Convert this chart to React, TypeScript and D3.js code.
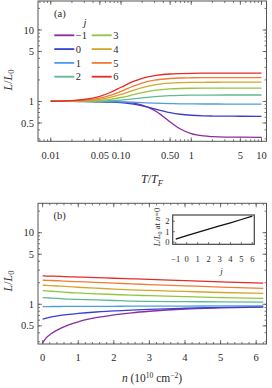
import React from 'react';
import * as d3 from 'd3';

const W = 272, H = 388;

// ---------- data ----------
const jLabels = ["−1", "0", "1", "2", "3", "4", "5", "6"];
const colors = ["#8a2c9e", "#3b3fcf", "#4c9ee0", "#5fb98f", "#93c540", "#d6a52c", "#f07c35", "#e52a2a"];

// panel (a): L/L0 versus T/TF
const tGrid = [0.01, 0.02, 0.03, 0.05, 0.07, 0.1, 0.15, 0.2, 0.3, 0.5, 0.7, 1, 1.5, 2, 3, 5, 10];
const aJm1 = [1.0, 1.0, 0.999, 0.997, 0.993, 0.981, 0.946, 0.891, 0.749, 0.516, 0.411, 0.354, 0.329, 0.322, 0.317, 0.316, 0.315];
const aJ0 = [1.0, 0.999, 0.997, 0.99, 0.981, 0.961, 0.917, 0.869, 0.787, 0.698, 0.662, 0.641, 0.629, 0.625, 0.622, 0.621, 0.62];
const aJ1 = [1.0, 1.0, 0.999, 0.997, 0.994, 0.987, 0.975, 0.963, 0.946, 0.931, 0.926, 0.923, 0.921, 0.921, 0.92, 0.92, 0.92];
const aJ2 = [1.0, 1.002, 1.004, 1.012, 1.024, 1.046, 1.087, 1.122, 1.168, 1.205, 1.217, 1.224, 1.227, 1.229, 1.23, 1.23, 1.23];
const aJ3 = [1.001, 1.005, 1.013, 1.037, 1.071, 1.135, 1.241, 1.325, 1.424, 1.496, 1.518, 1.529, 1.535, 1.537, 1.539, 1.54, 1.54];
const aJ4 = [1.002, 1.01, 1.025, 1.071, 1.137, 1.251, 1.431, 1.562, 1.707, 1.803, 1.832, 1.846, 1.853, 1.856, 1.859, 1.86, 1.86];
const aJ5 = [1.004, 1.017, 1.04, 1.115, 1.215, 1.386, 1.637, 1.808, 1.983, 2.094, 2.128, 2.143, 2.152, 2.156, 2.158, 2.16, 2.16];
const aJ6 = [1.006, 1.027, 1.065, 1.181, 1.334, 1.578, 1.906, 2.108, 2.302, 2.421, 2.454, 2.474, 2.483, 2.486, 2.49, 2.49, 2.49];
const seriesA = [aJm1, aJ0, aJ1, aJ2, aJ3, aJ4, aJ5, aJ6];

// panel (b): L/L0 versus n
const nGrid = [0, 0.1, 0.25, 0.5, 0.75, 1, 1.5, 2, 2.5, 3, 4, 5, 6.2];
const bJm1 = [0.29, 0.34, 0.39, 0.46, 0.52, 0.57, 0.65, 0.71, 0.76, 0.8, 0.86, 0.89, 0.915];
const bJ0 = [0.62, 0.64, 0.665, 0.7, 0.725, 0.745, 0.78, 0.81, 0.83, 0.85, 0.88, 0.905, 0.925];
const bJ1 = [0.93, 0.93, 0.931, 0.932, 0.933, 0.934, 0.936, 0.938, 0.94, 0.942, 0.945, 0.948, 0.95];
const bJ2 = [1.24, 1.23, 1.22, 1.2, 1.18, 1.17, 1.15, 1.13, 1.11, 1.1, 1.09, 1.08, 1.07];
const bJ3 = [1.55, 1.54, 1.52, 1.49, 1.46, 1.44, 1.4, 1.37, 1.34, 1.32, 1.28, 1.24, 1.21];
const bJ4 = [1.85, 1.84, 1.82, 1.79, 1.76, 1.73, 1.68, 1.63, 1.59, 1.56, 1.51, 1.46, 1.42];
const bJ5 = [2.17, 2.16, 2.15, 2.12, 2.09, 2.07, 2.02, 1.97, 1.93, 1.88, 1.81, 1.74, 1.67];
const bJ6 = [2.49, 2.48, 2.47, 2.45, 2.42, 2.4, 2.36, 2.31, 2.27, 2.23, 2.14, 2.06, 1.97];
const seriesB = [bJm1, bJ0, bJ1, bJ2, bJ3, bJ4, bJ5, bJ6];

// inset: L/L0 at n=0 versus j
const insetJ = [-1, 0, 1, 2, 3, 4, 5, 6];
const insetL = [0.29, 0.62, 0.93, 1.24, 1.55, 1.85, 2.17, 2.49];

// tick labels
const xTicksA = [0.01, 0.05, 0.1, 0.5, 1, 5, 10];
const xTickLabelsA = ["0.01", "0.05", "0.10", "0.50", "1", "5", "10"];
const yTicksLog = [0.5, 1, 5, 10];
const yTickLabelsLog = ["0.5", "1", "5", "10"];
const xTicksB = [0, 1, 2, 3, 4, 5, 6];
const insetXTicks = [-1, 0, 1, 2, 3, 4, 5, 6];
const insetXLabels = ["−1", "0", "1", "2", "3", "4", "5", "6"];
const insetYTicks = [0, 1, 2];

// ---------- layout ----------
const FL = 38, FR = 266.5;
const A_TOP = 1, A_BOT = 141.3;
const B_TOP = 203.3, B_BOT = 344;
const FONT = "'Liberation Serif', 'Times New Roman', serif";
const FRAME = "#555";
const TXT = "#2a2a2a";

function logMinor(lo: number, hi: number) {
  const out: number[] = [];
  for (let e = -3; e <= 2; e++) {
    for (let m = 1; m <= 9; m++) {
      const v = m * Math.pow(10, e);
      if (v >= lo && v <= hi) out.push(v);
    }
  }
  return out;
}

export default function App() {
  const xA = d3.scaleLog().domain([Math.pow(10, -2.182), Math.pow(10, 1.071)]).range([FL, FR]);
  const yA = d3.scaleLog().domain([0.277, 25.4]).range([A_BOT, A_TOP]);
  const xB = d3.scaleLinear().domain([-0.13, 6.29]).range([FL, FR]);
  const yB = d3.scaleLog().domain([0.279, 25.7]).range([B_BOT, B_TOP]);

  const ix = d3.scaleLinear().domain([-1.28, 6.18]).range([172.7, 254.3]);
  const iy = d3.scaleLinear().domain([-0.2, 2.6]).range([244.3, 215]);

  const lineA = (vals: number[]) =>
    d3.line<number>().x((_, i) => xA(tGrid[i])).y(d => yA(d)).curve(d3.curveMonotoneX)(vals) || "";
  const lineB = (vals: number[]) =>
    d3.line<number>().x((_, i) => xB(nGrid[i])).y(d => yB(d)).curve(d3.curveMonotoneX)(vals) || "";
  const insetLine = d3.line<number>().x((_, i) => ix(insetJ[i])).y(d => iy(d))(insetL) || "";

  const xMinorA = logMinor(xA.domain()[0], xA.domain()[1]);
  const yMinorA = logMinor(yA.domain()[0], yA.domain()[1]);
  const yMinorB = logMinor(yB.domain()[0], yB.domain()[1]);
  const xMinorB = d3.range(0, 6.21, 0.2);

  const MAJ = 4, MIN = 2;

  const frameTicks = (
    key: string,
    xs: (v: number) => number,
    ys: (v: number) => number,
    xMaj: number[], xMin: number[], yMaj: number[], yMin: number[],
    top: number, bot: number
  ) => {
    const els: any[] = [];
    xMin.forEach((v, i) => {
      const x = xs(v);
      if (x < FL + 0.5 || x > FR - 0.5) return;
      els.push(<line key={key + "xm" + i} x1={x} x2={x} y1={bot} y2={bot - MIN} />);
      els.push(<line key={key + "xmt" + i} x1={x} x2={x} y1={top} y2={top + MIN} />);
    });
    xMaj.forEach((v, i) => {
      const x = xs(v);
      els.push(<line key={key + "xM" + i} x1={x} x2={x} y1={bot} y2={bot - MAJ} />);
      els.push(<line key={key + "xMt" + i} x1={x} x2={x} y1={top} y2={top + MAJ} />);
    });
    yMin.forEach((v, i) => {
      const y = ys(v);
      if (y < top + 0.5 || y > bot - 0.5) return;
      els.push(<line key={key + "ym" + i} x1={FL} x2={FL + MIN} y1={y} y2={y} />);
      els.push(<line key={key + "ymr" + i} x1={FR} x2={FR - MIN} y1={y} y2={y} />);
    });
    yMaj.forEach((v, i) => {
      const y = ys(v);
      els.push(<line key={key + "yM" + i} x1={FL} x2={FL + MAJ} y1={y} y2={y} />);
      els.push(<line key={key + "yMr" + i} x1={FR} x2={FR - MAJ} y1={y} y2={y} />);
    });
    return <g stroke={FRAME} strokeWidth={0.8}>{els}</g>;
  };

  const legendRows = [35.3, 49.1, 62.9, 76.7];

  return (
    <svg width={W} height={H} style={{ position: 'absolute', left: 0, top: 0, background: '#fff' }}
      fontFamily={FONT} fill={TXT}>
      <rect x={0} y={0} width={W} height={H} fill="#fff" />

      {/* ---------- panel (a) ---------- */}
      <g fill="none" strokeWidth={1.3}>
        {seriesA.map((s, i) => (
          <path key={"a" + i} d={lineA(s)} stroke={colors[i]} />
        ))}
      </g>
      <rect x={FL} y={A_TOP} width={FR - FL} height={A_BOT - A_TOP} fill="none" stroke={FRAME} strokeWidth={1} />
      {frameTicks("a", xA, yA, xTicksA, xMinorA, yTicksLog, yMinorA, A_TOP, A_BOT)}
      <g fontSize={10.5} textAnchor="middle">
        {xTicksA.map((v, i) => (
          <text key={"axl" + i} x={xA(v)} y={159}>{xTickLabelsA[i]}</text>
        ))}
      </g>
      <g fontSize={10.5} textAnchor="end">
        {yTicksLog.map((v, i) => (
          <text key={"ayl" + i} x={34} y={yA(v) + 3.6}>{yTickLabelsLog[i]}</text>
        ))}
      </g>
      <text x={54} y={17} fontSize={10.5}>(a)</text>
      <text x={85} y={26} fontSize={10.5} fontStyle="italic" textAnchor="middle">j</text>
      {jLabels.map((lab, i) => {
        const col = i < 4 ? 0 : 1;
        const row = i % 4;
        const x0 = col === 0 ? 54.3 : 91.7;
        const y = legendRows[row];
        return (
          <g key={"leg" + i}>
            <line x1={x0} x2={x0 + 20} y1={y} y2={y} stroke={colors[i]} strokeWidth={1.8} />
            <text x={x0 + 21.5} y={y + 3.6} fontSize={10.5}>{lab}</text>
          </g>
        );
      })}
      <text transform={`translate(11.5,${80}) rotate(-90)`} fontSize={12} textAnchor="middle">
        <tspan fontStyle="italic">L</tspan>/<tspan fontStyle="italic">L</tspan>
        <tspan fontSize={8.5} dy={2.5}>0</tspan>
      </text>
      <text x={152} y={183} fontSize={12} textAnchor="middle">
        <tspan fontStyle="italic">T</tspan>/<tspan fontStyle="italic">T</tspan>
        <tspan fontSize={8.5} fontStyle="italic" dy={2.5}>F</tspan>
      </text>

      {/* ---------- panel (b) ---------- */}
      <g fill="none" strokeWidth={1.3}>
        {seriesB.map((s, i) => (
          <path key={"b" + i} d={lineB(s)} stroke={colors[i]} />
        ))}
      </g>
      <rect x={FL} y={B_TOP} width={FR - FL} height={B_BOT - B_TOP} fill="none" stroke={FRAME} strokeWidth={1} />
      {frameTicks("b", xB, yB, xTicksB, xMinorB, yTicksLog, yMinorB, B_TOP, B_BOT)}
      <g fontSize={10.5} textAnchor="middle">
        {xTicksB.map((v, i) => (
          <text key={"bxl" + i} x={xB(v)} y={360.5}>{String(v)}</text>
        ))}
      </g>
      <g fontSize={10.5} textAnchor="end">
        {yTicksLog.map((v, i) => (
          <text key={"byl" + i} x={34} y={yB(v) + 3.6}>{yTickLabelsLog[i]}</text>
        ))}
      </g>
      <text x={53.5} y={219} fontSize={10.5}>(b)</text>
      <text transform={`translate(11.5,${281}) rotate(-90)`} fontSize={12} textAnchor="middle">
        <tspan fontStyle="italic">L</tspan>/<tspan fontStyle="italic">L</tspan>
        <tspan fontSize={8.5} dy={2.5}>0</tspan>
      </text>
      <text x={152} y={382} fontSize={11.5} textAnchor="middle">
        <tspan fontStyle="italic">n</tspan> (10<tspan fontSize={7.5} dy={-4.5}>10</tspan>
        <tspan dy={4.5}> cm</tspan><tspan fontSize={7.5} dy={-4.5}>−2</tspan>
        <tspan dy={4.5}>)</tspan>
      </text>

      {/* ---------- inset ---------- */}
      <path d={insetLine} fill="none" stroke="#111" strokeWidth={1.3} />
      <rect x={172.7} y={215} width={254.3 - 172.7} height={244.3 - 215} fill="none" stroke="#444" strokeWidth={1.2} />
      <g stroke="#444" strokeWidth={0.7}>
        {insetXTicks.map((v, i) => (
          <line key={"ixt" + i} x1={ix(v)} x2={ix(v)} y1={244.3} y2={242} />
        ))}
        {insetYTicks.map((v, i) => (
          <line key={"iyt" + i} x1={172.7} x2={175} y1={iy(v)} y2={iy(v)} />
        ))}
      </g>
      <g fontSize={8.5} textAnchor="middle">
        {insetXTicks.map((v, i) => (
          <text key={"ixl" + i} x={ix(v)} y={262}>{insetXLabels[i]}</text>
        ))}
      </g>
      <g fontSize={8.5} textAnchor="end">
        {insetYTicks.map((v, i) => (
          <text key={"iyl" + i} x={169.5} y={iy(v) + 3}>{String(v)}</text>
        ))}
      </g>
      <text x={221.5} y={274} fontSize={9} fontStyle="italic" textAnchor="middle">j</text>
      <text transform={`translate(160,${227}) rotate(-90)`} fontSize={8.5} textAnchor="middle">
        <tspan fontStyle="italic">L</tspan>/<tspan fontStyle="italic">L</tspan>
        <tspan fontSize={6} dy={2}>0</tspan>
        <tspan dy={-2}> at </tspan><tspan fontStyle="italic">n</tspan>=0
      </text>
    </svg>
  );
}
